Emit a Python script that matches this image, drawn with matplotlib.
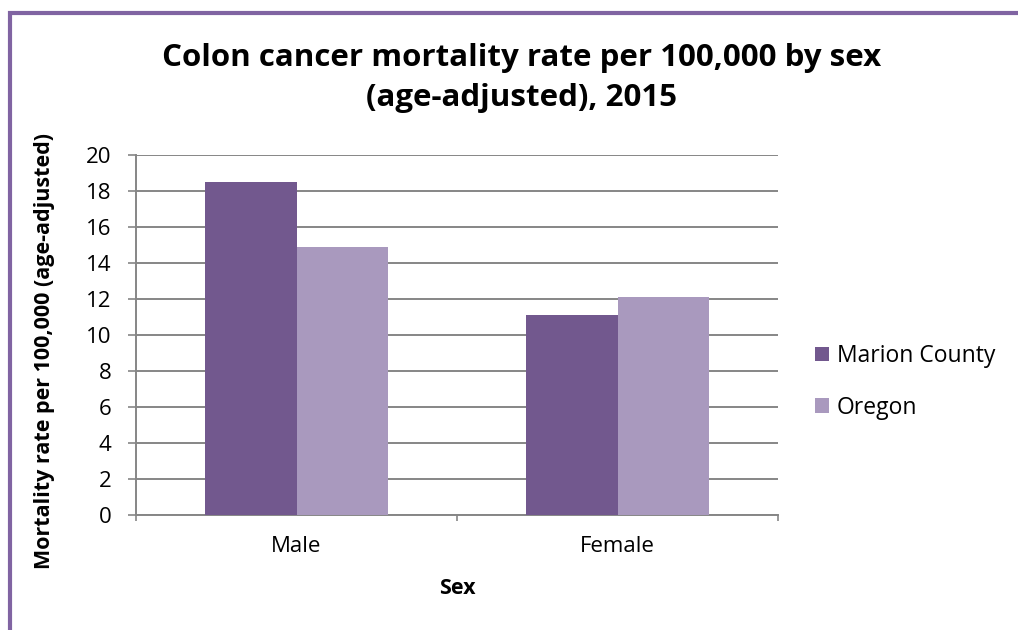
import numpy as np
import matplotlib.pyplot as plt
from matplotlib.patches import Rectangle

plt.rcParams['font.family'] = ['Open Sans', 'DejaVu Sans']

sexes = ["Male", "Female"]
marion = [18.5, 11.1]
oregon = [14.9, 12.1]
y_ticks = [0, 2, 4, 6, 8, 10, 12, 14, 16, 18, 20]

dark = "#72588e"
light = "#a999be"
gridc = "#868686"

fig = plt.figure(figsize=(10.18, 6.3), dpi=100)
W, H = 1018, 630
ax = fig.add_axes([136 / W, 1 - 515 / H, (778 - 136) / W, (515 - 155) / H])

x = np.arange(len(sexes))
bw = 0.285
ax.bar(x - bw / 2, marion, bw, color=dark, label="Marion County", zorder=3)
ax.bar(x + bw / 2, oregon, bw, color=light, label="Oregon", zorder=3)

ax.set_xlim(-0.5, 1.5)
ax.set_ylim(0, 20)
ax.set_yticks(y_ticks)
ax.set_yticklabels([str(v) for v in y_ticks], fontsize=16)
ax.set_xticks([-0.5, 0.5, 1.5])
ax.set_xticklabels([])
ax.set_xticks(x, minor=True)
ax.set_xticklabels(sexes, minor=True, fontsize=16)
ax.tick_params(axis='x', which='minor', length=0, pad=15)
ax.tick_params(axis='x', which='major', length=4.3, width=1.2, color=gridc, direction='out')
ax.tick_params(axis='y', length=5.8, width=1.2, color=gridc, pad=12)
ax.yaxis.grid(True, color=gridc, linewidth=1.4, zorder=0)
for s in ['top', 'right']:
    ax.spines[s].set_visible(False)
for s in ['left', 'bottom']:
    ax.spines[s].set_color(gridc)
    ax.spines[s].set_linewidth(1.4)

fig.text(457 / W, 1 - 589 / H, "Sex", fontsize=15.5, fontweight='bold', ha='center', va='center')
fig.text(45 / W, 1 - 351 / H, "Mortality rate per 100,000 (age-adjusted)", rotation=90,
         fontsize=15.5, fontweight='bold', ha='center', va='center')
fig.text(522 / W, 1 - 78 / H, "Colon cancer mortality rate per 100,000 by sex\n(age-adjusted), 2015",
         fontsize=22.5, fontweight='bold', ha='center', va='center', linespacing=1.45)

ax.legend(loc='center left', bbox_to_anchor=(815 / W, 1 - 382 / H), bbox_transform=fig.transFigure,
          frameon=False, fontsize=16.5, handlelength=0.6, handleheight=0.6, handletextpad=0.35,
          labelspacing=1.2, borderpad=0, borderaxespad=0)

# purple frame on top and left
fig.patches.append(Rectangle((10 / W, -0.1), 1.1, 1 - 13 / H + 0.1, transform=fig.transFigure,
                             fill=False, edgecolor="#8064a2", linewidth=3))

fig.savefig("out.png", dpi=100)
